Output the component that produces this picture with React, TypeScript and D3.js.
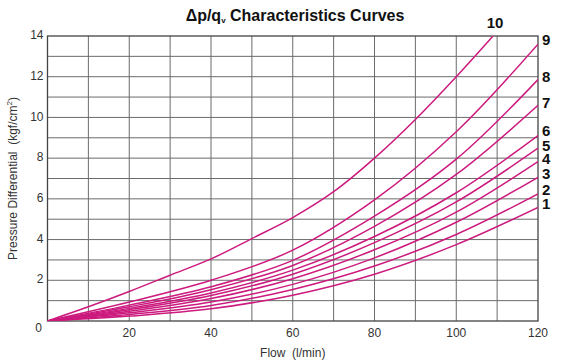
import React, { useEffect, useRef } from 'react';
import * as d3 from 'd3';

// flow readings (l/min) for curves 1-9
const flowSteps = [0, 20, 40, 60, 80, 100, 120];

// pressure differential (kgf/cm2)
const curve1 = [0, 0.24, 0.6, 1.27, 2.3, 3.75, 5.58];
const curve2 = [0, 0.32, 0.76, 1.55, 2.7, 4.25, 6.24];
const curve3 = [0, 0.4, 0.93, 1.8, 3.1, 4.85, 7.06];
const curve4 = [0, 0.48, 1.1, 2.08, 3.5, 5.35, 7.83];
const curve5 = [0, 0.55, 1.25, 2.3, 3.85, 5.85, 8.49];
const curve6 = [0, 0.62, 1.38, 2.5, 4.15, 6.3, 9.11];
const curve7 = [0, 0.7, 1.54, 2.73, 4.65, 7.2, 10.6];
const curve8 = [0, 0.78, 1.68, 2.98, 5.15, 7.95, 11.86];
const curve9 = [0, 0.93, 2.0, 3.48, 5.95, 9.3, 13.6];

// curve 10 runs off the top, read at finer steps
const flow10 = [0, 10, 20, 30, 40, 50, 60, 70, 80, 90, 100, 109];
const curve10 = [0, 0.7, 1.45, 2.25, 3.05, 4.05, 5.08, 6.35, 8.0, 9.9, 12.0, 14.0];

const xTicks = [20, 40, 60, 80, 100, 120];
const yTicks = [2, 4, 6, 8, 10, 12, 14];

const App = () => {
  const svgRef = useRef<SVGSVGElement>(null);
  const width = 563;
  const height = 364;

  useEffect(() => {
    const svg = d3.select(svgRef.current);
    svg.selectAll('*').remove();

    const x = d3.scaleLinear().domain([0, 120]).range([47.5, 538]);
    const y = d3.scaleLinear().domain([0, 14]).range([321, 36]);

    const font = "'Liberation Sans', Arial, sans-serif";
    const g = svg.append('g');

    // grid
    g.selectAll('line.vg')
      .data(d3.range(10, 120, 10))
      .enter()
      .append('line')
      .attr('x1', d => x(d))
      .attr('x2', d => x(d))
      .attr('y1', y(0))
      .attr('y2', y(14))
      .attr('stroke', '#6b6b6b')
      .attr('stroke-width', 1);

    g.selectAll('line.hg')
      .data(d3.range(1, 14, 1))
      .enter()
      .append('line')
      .attr('x1', x(0))
      .attr('x2', x(120))
      .attr('y1', d => y(d))
      .attr('y2', d => y(d))
      .attr('stroke', '#6b6b6b')
      .attr('stroke-width', 1);

    g.append('rect')
      .attr('x', x(0))
      .attr('y', y(14))
      .attr('width', x(120) - x(0))
      .attr('height', y(0) - y(14))
      .attr('fill', 'none')
      .attr('stroke', '#444')
      .attr('stroke-width', 1.3);

    // curves
    svg.append('clipPath')
      .attr('id', 'plot-clip')
      .append('rect')
      .attr('x', x(0))
      .attr('y', y(14))
      .attr('width', x(120) - x(0))
      .attr('height', y(0) - y(14));

    const line = d3.line<[number, number]>()
      .x(d => x(d[0]))
      .y(d => y(d[1]))
      .curve(d3.curveCatmullRom.alpha(0.5));

    const series = [curve1, curve2, curve3, curve4, curve5, curve6, curve7, curve8, curve9];
    const lines: [number, number][][] = series.map(s => s.map((v, i) => [flowSteps[i], v] as [number, number]));
    lines.push(curve10.map((v, i) => [flow10[i], v] as [number, number]));

    g.append('g')
      .attr('clip-path', 'url(#plot-clip)')
      .selectAll('path')
      .data(lines)
      .enter()
      .append('path')
      .attr('d', d => line(d))
      .attr('fill', 'none')
      .attr('stroke', '#cc1a7e')
      .attr('stroke-width', 1.5);

    // curve numbers, nudged to sit where the picture puts them
    const labelOffsets = [-3, -4, -3, -3, -2, -5, -2, -3, -4];
    series.forEach((s, i) => {
      g.append('text')
        .attr('x', x(120) + 4)
        .attr('y', y(s[s.length - 1]) + labelOffsets[i] + 5)
        .attr('font-family', font)
        .attr('font-weight', 'bold')
        .attr('font-size', 15)
        .attr('fill', '#111')
        .text(String(i + 1));
    });
    g.append('text')
      .attr('x', x(flow10[flow10.length - 1]) + 2)
      .attr('y', y(14) - 8)
      .attr('text-anchor', 'middle')
      .attr('font-family', font)
      .attr('font-weight', 'bold')
      .attr('font-size', 15)
      .attr('fill', '#111')
      .text('10');

    // tick labels
    g.selectAll('text.xt')
      .data(xTicks)
      .enter()
      .append('text')
      .attr('x', d => x(d))
      .attr('y', y(0) + 13)
      .attr('text-anchor', 'middle')
      .attr('dominant-baseline', 'middle')
      .attr('font-family', font)
      .attr('font-size', 12)
      .attr('fill', '#333')
      .text(d => d);

    g.selectAll('text.yt')
      .data(yTicks)
      .enter()
      .append('text')
      .attr('x', x(0) - 4)
      .attr('y', d => y(d))
      .attr('text-anchor', 'end')
      .attr('dominant-baseline', 'middle')
      .attr('font-family', font)
      .attr('font-size', 12)
      .attr('fill', '#333')
      .text(d => d);

    g.append('text')
      .attr('x', x(0) - 9)
      .attr('y', y(0) + 8)
      .attr('text-anchor', 'middle')
      .attr('dominant-baseline', 'middle')
      .attr('font-family', font)
      .attr('font-size', 12)
      .attr('fill', '#333')
      .text('0');

    // axis titles
    g.append('text')
      .attr('x', (x(0) + x(120)) / 2)
      .attr('y', 354)
      .attr('text-anchor', 'middle')
      .attr('dominant-baseline', 'middle')
      .attr('font-family', font)
      .attr('font-size', 12)
      .attr('fill', '#333')
      .attr('xml:space', 'preserve')
      .text('Flow  (l/min)');

    const yt = g.append('text')
      .attr('transform', `translate(14,${(y(0) + y(14)) / 2}) rotate(-90)`)
      .attr('text-anchor', 'middle')
      .attr('dominant-baseline', 'middle')
      .attr('font-family', font)
      .attr('font-size', 12)
      .attr('fill', '#333')
      .attr('xml:space', 'preserve');
    yt.append('tspan').text('Pressure Differential  (kgf/cm');
    yt.append('tspan').attr('font-size', 8).attr('dy', -4).text('2');
    yt.append('tspan').attr('dy', 4).text(')');

    // title
    const title = g.append('text')
      .attr('x', 295)
      .attr('y', 17)
      .attr('text-anchor', 'middle')
      .attr('dominant-baseline', 'middle')
      .attr('font-family', font)
      .attr('font-weight', 'bold')
      .attr('font-size', 16)
      .attr('fill', '#111');
    title.append('tspan').text('Δp/q');
    title.append('tspan').attr('font-size', 8).attr('dy', 4).text('v');
    title.append('tspan').attr('dy', -4).text(' Characteristics Curves');
  }, []);

  return (
    <svg
      ref={svgRef}
      width={width}
      height={height}
      style={{ position: 'absolute', left: 0, top: 0, background: '#fff' }}
    />
  );
};

export default App;
